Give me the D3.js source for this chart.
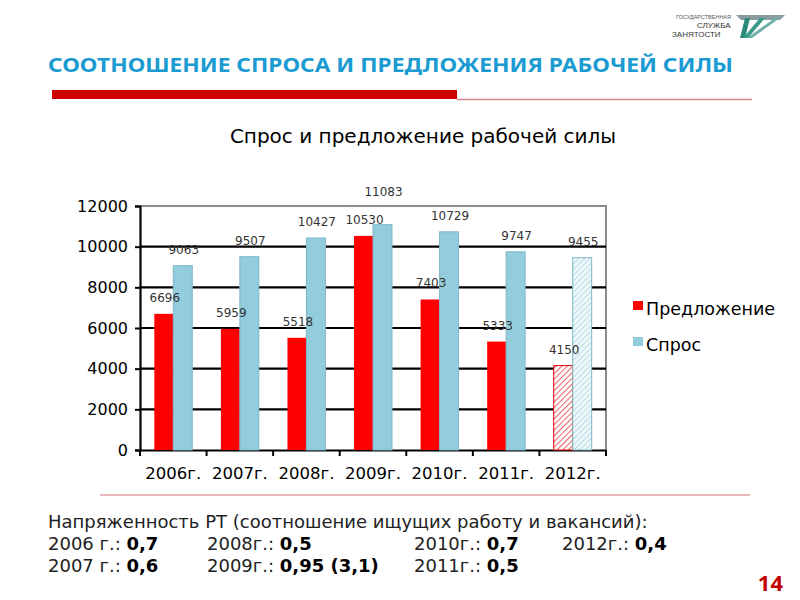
<!DOCTYPE html>
<html>
<head>
<meta charset="utf-8">
<script src="https://cdn.jsdelivr.net/npm/d3@7"></script>
<style>
  body { margin: 0; background: #fff; }
  svg { display: block; }
</style>
</head>
<body>
<div id="chart"></div>
<script>
// Data
const years = ["2006г.", "2007г.", "2008г.", "2009г.", "2010г.", "2011г.", "2012г."];
const supply = [6696, 5959, 5518, 10530, 7403, 5333, 4150];   // Предложение
const demand = [9063, 9507, 10427, 11083, 10729, 9747, 9455]; // Спрос
const forecastYear = "2012г.";
const yTicks = [0, 2000, 4000, 6000, 8000, 10000, 12000];
const seriesNames = ["Предложение", "Спрос"];

const tensionTitle = "Напряженность РТ (соотношение ищущих работу и вакансий):";
const tensionRows = [
  [["2006 г.: ", "0,7"], ["2008г.: ", "0,5"], ["2010г.: ", "0,7"], ["2012г.: ", "0,4"]],
  [["2007 г.: ", "0,6"], ["2009г.: ", "0,95 (3,1)"], ["2011г.: ", "0,5"]]
];

const red = "#ff0000";
const blue = "#93cddd";
const font = "DejaVu Sans, Verdana, sans-serif";

const svg = d3.select("#chart").append("svg")
  .attr("width", 800)
  .attr("height", 600);

// hatch patterns for the forecast year
const defs = svg.append("defs");
function hatch(id, color, bg) {
  const p = defs.append("pattern")
    .attr("id", id)
    .attr("patternUnits", "userSpaceOnUse")
    .attr("width", 4).attr("height", 4)
    .attr("patternTransform", "rotate(45)");
  p.append("rect").attr("width", 4).attr("height", 4).attr("fill", bg);
  p.append("line").attr("x1", 0).attr("y1", 0).attr("x2", 0).attr("y2", 4)
    .attr("stroke", color).attr("stroke-width", 1.6);
}
hatch("hatchRed", "#e83a3a", "#fff");
hatch("hatchBlue", "#a9d6e3", "#eef8fb");

// ---- header ----
svg.append("text")
  .attr("x", 48).attr("y", 72)
  .attr("font-family", "Noto Sans, Open Sans, sans-serif")
  .attr("font-weight", "bold")
  .attr("font-size", 19)
  .attr("fill", "#1b9bd1")
  .attr("textLength", 685)
  .attr("lengthAdjust", "spacingAndGlyphs")
  .text("СООТНОШЕНИЕ СПРОСА И ПРЕДЛОЖЕНИЯ РАБОЧЕЙ СИЛЫ");

svg.append("rect").attr("x", 52).attr("y", 90).attr("width", 405).attr("height", 9).attr("fill", "#cc0000");
svg.append("line").attr("x1", 457).attr("y1", 99.5).attr("x2", 752).attr("y2", 99.5)
  .attr("stroke", "#d9898a").attr("stroke-width", 1.5);

// bottom separator
svg.append("line").attr("x1", 100).attr("y1", 495).attr("x2", 750).attr("y2", 495)
  .attr("stroke", "#e3a1a3").attr("stroke-width", 1.5);

// ---- logo ----
const logo = svg.append("g").attr("font-family", "Liberation Sans, Arial, sans-serif").attr("fill", "#555");
logo.append("text").attr("x", 676).attr("y", 19).attr("font-size", 4.5).attr("textLength", 55)
  .attr("lengthAdjust", "spacingAndGlyphs").text("ГОСУДАРСТВЕННАЯ");
logo.append("text").attr("x", 697).attr("y", 28).attr("font-size", 8).attr("fill", "#333").text("СЛУЖБА");
logo.append("text").attr("x", 672).attr("y", 37).attr("font-size", 8).attr("fill", "#333").text("ЗАНЯТОСТИ");
logo.append("polygon").attr("points", "736,15 785,15 780,20 741,20").attr("fill", "#8a9ba0");
logo.append("polygon").attr("points", "745,18 750,18 745,38 740,38").attr("fill", "#2a8a7a");
logo.append("polygon").attr("points", "760,18 765,18 748,38 743,38").attr("fill", "#3a9a8a");
logo.append("polygon").attr("points", "775,18 780,18 752,38 747,38").attr("fill", "#6fb2a6");

// ---- chart ----
svg.append("text")
  .attr("x", 423).attr("y", 143)
  .attr("text-anchor", "middle")
  .attr("font-family", font)
  .attr("font-size", 20)
  .attr("fill", "#000")
  .text("Спрос и предложение рабочей силы");

const plot = { left: 140, right: 606, top: 206, bottom: 450 };

const x = d3.scaleBand()
  .domain(years)
  .range([plot.left, plot.right])
  .paddingInner(0.43)
  .paddingOuter(0.215);

const xSub = d3.scaleBand()
  .domain([0, 1])
  .range([0, x.bandwidth()]);

const y = d3.scaleLinear()
  .domain([0, 12000])
  .range([plot.bottom, plot.top]);

const g = svg.append("g");

// plot border (top/right)
g.append("path")
  .attr("d", `M${plot.left},${plot.top}H${plot.right}V${plot.bottom}`)
  .attr("fill", "none")
  .attr("stroke", "#8c8c8c")
  .attr("stroke-width", 2);

// gridlines
g.selectAll(".grid")
  .data(yTicks.filter(d => d > 0 && d < 12000))
  .enter().append("line")
  .attr("x1", plot.left).attr("x2", plot.right)
  .attr("y1", d => y(d)).attr("y2", d => y(d))
  .attr("stroke", "#000").attr("stroke-width", 2.2);

// y axis
const yAxis = g.append("g")
  .attr("transform", `translate(${plot.left},0)`)
  .call(d3.axisLeft(y).tickValues(yTicks).tickSize(5).tickPadding(7).tickFormat(d3.format("d")));
yAxis.select(".domain").attr("stroke-width", 2.2);
yAxis.selectAll(".tick line").attr("stroke-width", 2);
yAxis.selectAll("text").attr("font-family", font).attr("font-size", 16).attr("fill", "#000");

// x axis with ticks at category boundaries
const xAxis = g.append("g")
  .attr("transform", `translate(0,${plot.bottom})`)
  .call(d3.axisBottom(x).tickSize(0).tickPadding(17));
xAxis.select(".domain").attr("stroke-width", 2.2);
xAxis.selectAll("text").attr("font-family", font).attr("font-size", 16.5).attr("fill", "#000");
const step = x.step();
g.selectAll(".xtick")
  .data(d3.range(years.length + 1))
  .enter().append("line")
  .attr("x1", i => plot.left + i * step).attr("x2", i => plot.left + i * step)
  .attr("y1", plot.bottom).attr("y2", plot.bottom + 6)
  .attr("stroke", "#000").attr("stroke-width", 2);

// bars
const rows = years.map((yr, i) => ({ yr, vals: [supply[i], demand[i]] }));
const groups = g.selectAll(".grp")
  .data(rows)
  .enter().append("g")
  .attr("transform", d => `translate(${x(d.yr)},0)`);

groups.selectAll("rect")
  .data(d => d.vals.map((v, k) => ({ v, k, yr: d.yr })))
  .enter().append("rect")
  .attr("x", d => xSub(d.k))
  .attr("y", d => y(d.v))
  .attr("width", xSub.bandwidth())
  .attr("height", d => y(0) - y(d.v))
  .attr("fill", d => d.yr === forecastYear ? (d.k === 0 ? "url(#hatchRed)" : "url(#hatchBlue)") : (d.k === 0 ? red : blue))
  .attr("stroke", d => d.k === 0 ? (d.yr === forecastYear ? "#e00000" : "none") : "#7fb6c6")
  .attr("stroke-width", 1);

// value labels
groups.selectAll(".lbl")
  .data(d => d.vals.map((v, k) => ({ v, k })))
  .enter().append("text")
  .attr("x", d => xSub(d.k) + xSub.bandwidth() / 2 + 1)
  .attr("y", d => {
    const yy = y(d.v) - 12;
    // push above the plot border if it would hit it
    return yy < plot.top + 10 ? plot.top - 10 : yy;
  })
  .attr("text-anchor", "middle")
  .attr("font-family", font)
  .attr("font-size", 12)
  .attr("fill", "#333")
  .text(d => d.v);

// legend
const legend = svg.append("g").attr("transform", "translate(633,301)");
seriesNames.forEach((name, i) => {
  legend.append("rect")
    .attr("x", 0).attr("y", i * 36)
    .attr("width", 10).attr("height", 9)
    .attr("fill", i === 0 ? red : blue);
  legend.append("text")
    .attr("x", 13).attr("y", i * 36 + 14)
    .attr("font-family", font)
    .attr("font-size", 17.5)
    .attr("fill", "#000")
    .text(name);
});

// ---- tension text ----
const t = svg.append("g").attr("font-family", font).attr("font-size", 18).attr("fill", "#222");
t.append("text").attr("x", 48).attr("y", 528).text(tensionTitle);
const colX = [48, 207, 414, 562];
tensionRows.forEach((row, r) => {
  row.forEach((cell, c) => {
    const tx = t.append("text").attr("x", colX[c]).attr("y", 550 + r * 22);
    tx.append("tspan").text(cell[0]);
    tx.append("tspan").attr("font-weight", "bold").attr("fill", "#000").text(cell[1]);
  });
});

// page number
svg.append("text")
  .attr("x", 783).attr("y", 591)
  .attr("text-anchor", "end")
  .attr("font-family", "Noto Sans, sans-serif")
  .attr("font-weight", "bold")
  .attr("font-size", 22)
  .attr("fill", "#c00000")
  .text("14");
</script>
</body>
</html>
